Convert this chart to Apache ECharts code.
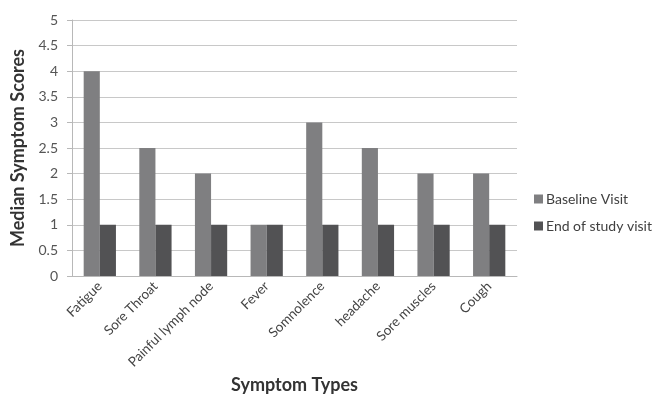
<!DOCTYPE html>
<html><head><meta charset="utf-8">
<script src="https://cdn.jsdelivr.net/npm/echarts@6/dist/echarts.min.js"></script>
<style>html,body{margin:0;padding:0;background:#fff}#c{width:662px;height:406px}</style>
</head><body><div id="c"></div>
<script>
const categories = ['Fatigue','Sore Throat','Painful lymph node','Fever','Somnolence','headache','Sore muscles','Cough'];
const baseline = [4, 2.5, 2, 1, 3, 2.5, 2, 2];
const endOfStudy = [1, 1, 1, 1, 1, 1, 1, 1];
const seriesNames = ['Baseline Visit', 'End of study visit'];
const FONT = 'Lato, "Open Sans", sans-serif';
const chart = echarts.init(document.getElementById('c'));
chart.setOption({
  animation: false,
  textStyle: {fontFamily: FONT},
  grid: {left: 72, right: 145, top: 20, bottom: 130},
  legend: {
    orient: 'vertical', left: 529, top: 187, itemWidth: 9, itemHeight: 9, itemGap: 13,
    icon: 'rect',
    textStyle: {fontFamily: FONT, fontSize: 14, color: '#404040', padding: [0,0,0,-2]},
    data: seriesNames
  },
  xAxis: {
    type: 'category', data: categories,
    name: 'Symptom Types', nameLocation: 'middle', nameGap: 100,
    nameTextStyle: {fontFamily: FONT, fontSize: 18, fontWeight: 'bold', color: '#333'},
    axisLine: {lineStyle: {color: '#b8b8b8'}},
    axisTick: {show: false},
    axisLabel: {rotate: 45, interval: 0, fontSize: 13.5, color: '#444', margin: 8, fontFamily: FONT}
  },
  yAxis: {
    type: 'value', min: 0, max: 5, interval: 0.5,
    name: 'Median Symptom Scores', nameLocation: 'middle', nameGap: 44,
    nameTextStyle: {fontFamily: FONT, fontSize: 18, fontWeight: 'bold', color: '#333'},
    axisLine: {show: true, lineStyle: {color: '#b8b8b8'}},
    axisTick: {show: true, length: 5, lineStyle: {color: '#b8b8b8'}},
    splitLine: {lineStyle: {color: '#c8c8c8'}},
    axisLabel: {fontSize: 14, color: '#555', margin: 14, fontFamily: FONT}
  },
  series: [
    {name: seriesNames[0], type: 'bar', data: baseline, barGap: '0%', barCategoryGap: '42%', itemStyle: {color: '#7f7f81'}},
    {name: seriesNames[1], type: 'bar', data: endOfStudy, itemStyle: {color: '#525254'}}
  ]
});
</script></body></html>
